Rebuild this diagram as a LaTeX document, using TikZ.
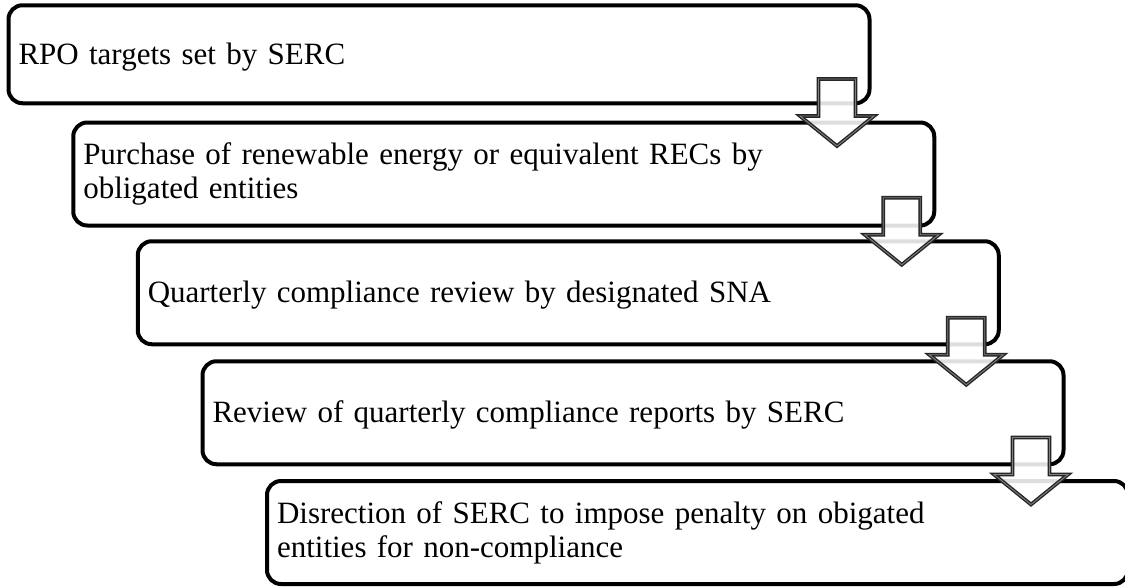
\documentclass[tikz,border=0pt]{standalone}
\usepackage{fontspec}
\setmainfont{Liberation Serif}
\usetikzlibrary{calc}

\tikzset{
  stagebox/.style={draw=black, line width=4pt, rounded corners=14pt, fill=white,
    outer sep=0pt, minimum width=861pt, text width=841pt, inner xsep=10pt,
    minimum height=103pt, align=left, font=\fontsize{31}{34}\selectfont},
  oneline/.style={text height=26pt, text depth=6pt},
  downarrow/.style={draw=black!85, line width=1.4pt, double=black!50,
    double distance=0.9pt, fill=white, fill opacity=0.87, line join=miter}
}

% block arrow from the right end of one stage down into the next
\newcommand{\stagearrow}[2]{%
  \draw[downarrow] ($(#1.east |- #2.north)+(-51,-43.5)$) -- ++(37,0) -- ++(0,37)
    -- ++(18.5,0) -- ++(-37,30) -- ++(-37,-30) -- ++(18.5,0) -- cycle;}

\begin{document}
\begin{tikzpicture}[x=1pt, y=-1pt]
    \useasboundingbox (0,0) rectangle (1125,587);
    \clip (0,0) rectangle (1125,587);

    % Stages of the RPO compliance process
    \node[stagebox, oneline, minimum height=98pt] (targets) at (439,54.25)
        {RPO targets set by SERC};
    \node[stagebox] (purchase) at (503.75,174)
        {Purchase of renewable energy or equivalent RECs by\\obligated entities};
    \node[stagebox, oneline] (sna) at (568.25,292.75)
        {Quarterly compliance review by designated SNA};
    \node[stagebox, oneline] (reports) at (633,412.75)
        {Review of quarterly compliance reports by SERC};
    \node[stagebox] (penalty) at (697.5,532.5)
        {Disrection of SERC to impose penalty on obigated\\entities for non-compliance};

    % Arrows between the stages
    \stagearrow{targets}{purchase}
    \stagearrow{purchase}{sna}
    \stagearrow{sna}{reports}
    \stagearrow{reports}{penalty}

\end{tikzpicture}
\end{document}
